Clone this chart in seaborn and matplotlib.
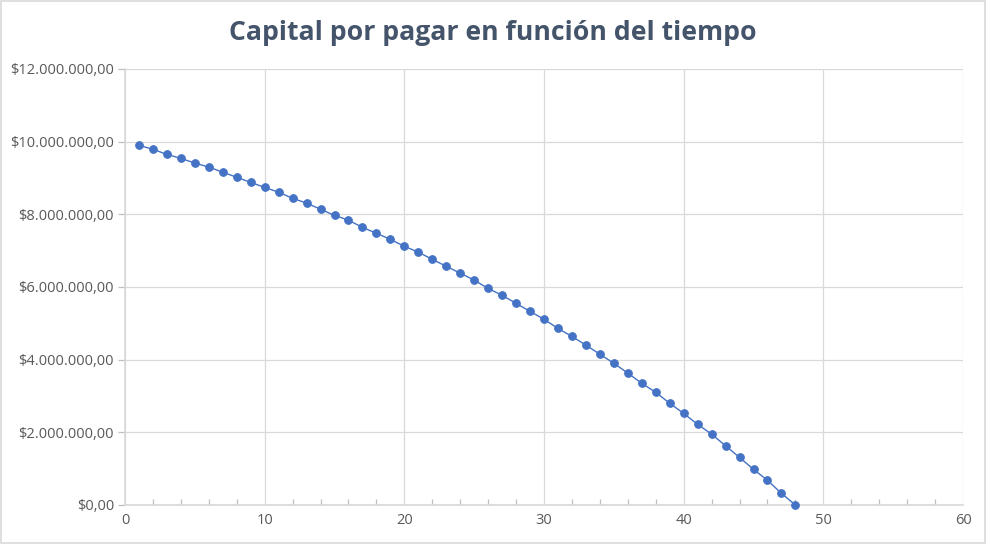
import matplotlib
matplotlib.use("Agg")
import matplotlib.pyplot as plt
import seaborn as sns
import pandas as pd
from matplotlib.ticker import FuncFormatter, MultipleLocator
from matplotlib.patches import Rectangle

periodo = list(range(1, 49))
capital_millones = [9.90, 9.79, 9.65, 9.54, 9.41, 9.30, 9.16, 9.02, 8.88, 8.74,
                    8.61, 8.44, 8.31, 8.14, 7.97, 7.84, 7.64, 7.48, 7.31, 7.12,
                    6.96, 6.76, 6.57, 6.38, 6.19, 5.96, 5.77, 5.55, 5.33, 5.11,
                    4.86, 4.64, 4.40, 4.15, 3.90, 3.63, 3.35, 3.10, 2.80, 2.52,
                    2.22, 1.95, 1.63, 1.31, 0.98, 0.68, 0.32, 0.00]
titulo = "Capital por pagar en función del tiempo"

df = pd.DataFrame({"periodo": periodo,
                   "capital": [v * 1e6 for v in capital_millones]})

sns.set_theme(style="white")
plt.rcParams['font.family'] = ['Open Sans', 'DejaVu Sans']

fig = plt.figure(figsize=(9.86, 5.44), dpi=100)
ax = fig.add_axes([125/986, 1 - 505/544, (963-125)/986, (505-69)/544])

blue = "#4472C4"
sns.lineplot(data=df, x="periodo", y="capital", ax=ax, color=blue,
             linewidth=1.0, marker="o", markersize=5.5,
             markeredgecolor=blue, markerfacecolor=blue, clip_on=False, zorder=5)

ax.set_xlim(0, 60)
ax.set_ylim(0, 12e6)
ax.xaxis.set_major_locator(MultipleLocator(10))
ax.xaxis.set_minor_locator(MultipleLocator(2))
ax.yaxis.set_major_locator(MultipleLocator(2e6))

def fmt(v, pos):
    s = f"{v:,.2f}"
    s = s.replace(",", "X").replace(".", ",").replace("X", ".")
    return "$" + s

ax.yaxis.set_major_formatter(FuncFormatter(fmt))
ax.grid(True, which="major", color="#D9D9D9", linewidth=0.9)
ax.set_axisbelow(True)
for side in ["top", "right"]:
    ax.spines[side].set_visible(False)
ax.spines["left"].set_color("#D9D9D9")
ax.spines["bottom"].set_color("#D9D9D9")
ax.tick_params(axis="y", which="major", direction="out", length=5, width=0.9,
               color="#BFBFBF", labelsize=10.5, labelcolor="#595959", pad=3, left=True)
ax.tick_params(axis="x", which="major", direction="out", length=0,
               labelsize=10.5, labelcolor="#595959", pad=6, bottom=True)
ax.tick_params(axis="x", which="minor", direction="in", length=4, width=0.9,
               color="#BFBFBF", bottom=True)
ax.set_xlabel("")
ax.set_ylabel("")

fig.text(0.5, 1 - 33/544, titulo, ha="center", va="center", fontsize=19.2,
         fontweight="bold", color="#44546A")

fig.patches.append(Rectangle((0.001, 0.001), 0.998, 0.997, transform=fig.transFigure,
                             fill=False, edgecolor="#D9D9D9", linewidth=1.2))

fig.savefig("out.png", dpi=100)
